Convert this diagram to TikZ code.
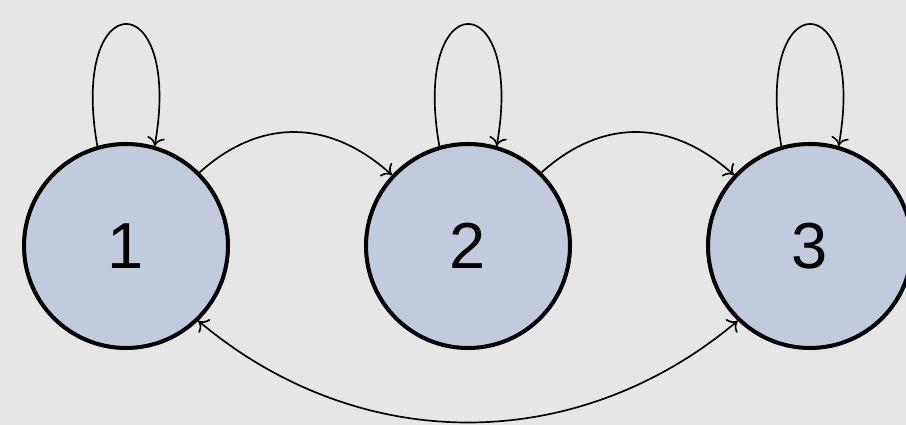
\documentclass[tikz,border=0pt]{standalone}
\usepackage{fontspec}
\setmainfont{Liberation Sans}
\usetikzlibrary{arrows.meta, positioning}
\definecolor{ST}{RGB}{194,203,222}
\definecolor{BG}{RGB}{230,230,230}

\begin{document}
\begin{tikzpicture}[
  state/.style={circle, draw=black, line width=2.3pt, fill=ST,
                minimum size=4.08cm, inner sep=0pt,
                font=\fontsize{37}{40}\selectfont},
  conn/.style={draw=black, line width=0.95pt, -{To[length=5pt,width=10pt]}},
  both/.style={draw=black, line width=0.95pt,
               {To[length=5pt,width=10pt]}-{To[length=5pt,width=10pt]}}
]
% Background
\fill[BG] (0,0) rectangle (18.12,8.5);
\useasboundingbox (0,0) rectangle (18.12,8.5);

% States
\node[state] (s1) at (2.52,3.58) {1};
\node[state] (s2) at (9.36,3.58) {2};
\node[state] (s3) at (16.2,3.58) {3};

% Self loops
\draw[conn] (s1.106) .. controls +(100:3.3) and +(80:3.3) .. (s1.74);
\draw[conn] (s2.106) .. controls +(100:3.3) and +(80:3.3) .. (s2.74);
\draw[conn] (s3.106) .. controls +(100:3.3) and +(80:3.3) .. (s3.74);

% Transitions
\draw[conn] (s1.45) to[out=42, in=138, looseness=1.1] (s2.137);
\draw[conn] (s2.45) to[out=42, in=138, looseness=1.1] (s3.137);
\draw[both] (s1.-46) to[out=-40, in=-140] (s3.-134);
\end{tikzpicture}
\end{document}
